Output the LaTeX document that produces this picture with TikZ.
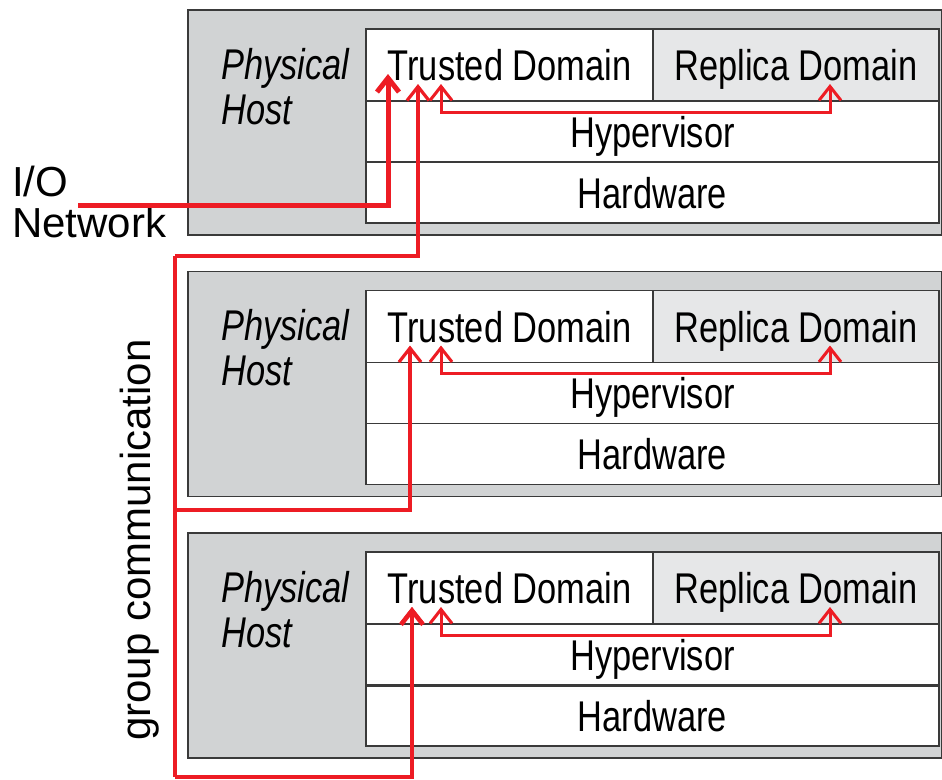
\documentclass[tikz,border=0pt]{standalone}
\usepackage{fontspec}
\setmainfont{Liberation Sans}[FakeStretch=0.8]
\newfontfamily\plainsans{Liberation Sans}
\usepackage{xcolor}
\usepackage{tikz}
\usetikzlibrary{arrows.meta,positioning,calc}
\definecolor{hostgray}{HTML}{D1D3D4}
\definecolor{replgray}{HTML}{E6E7E8}
\definecolor{edgeink}{HTML}{3A3A3A}
\definecolor{linkred}{HTML}{ED1C24}
\newcommand\biglabel{\fontsize{43}{45}\selectfont}
\tikzset{
  hostbox/.style={draw=edgeink,line width=1.8pt,fill=hostgray,anchor=north west,
                  minimum width=754pt,minimum height=225pt,inner sep=0pt,outer sep=0pt},
  cell/.style   ={draw=edgeink,line width=1.8pt,fill=white,inner sep=0pt,outer sep=0pt,
                  text depth=0pt,font=\biglabel},
  hosttext/.style={anchor=north west,align=left,inner sep=0pt,font=\biglabel\itshape},
  ionet/.style  ={-{Straight Barb[length=14pt,width=22pt]},line width=5pt,draw=linkred},
  grp/.style    ={-{Straight Barb[length=14pt,width=22pt]},line width=3.2pt,draw=linkred},
  repl/.style   ={{Straight Barb[length=14pt,width=22pt]}-{Straight Barb[length=14pt,width=22pt]},
                  line width=3pt,draw=linkred}
}

\begin{document}
\begin{tikzpicture}[x=1pt,y=-1pt]
    \useasboundingbox (0,0) rectangle (942,779);
    % the three physical hosts
    \foreach \k/\t in {1/10,2/271.5,3/533}{
      \node[hostbox] (host\k) at (188,\t) {};
      \node[cell,anchor=north west,minimum width=287pt,minimum height=72pt] (td\k) at (366,\t+19) {Trusted Domain};
      \node[cell,fill=replgray,right=0pt of td\k,minimum width=286pt,minimum height=72pt] (rd\k) {Replica Domain};
      \node[cell,anchor=north west,minimum width=573pt,minimum height=61pt] (hv\k) at (td\k.south west) {Hypervisor};
      \node[cell,anchor=north west,minimum width=573pt,minimum height=61pt] (hw\k) at (hv\k.south west) {Hardware};
      \node[hosttext] (ph\k) at (221,\t+38) {Physical\\Host};
    }
    \draw[edgeink,line width=3pt] (hw3.north west) -- (hw3.north east);
    % labels on the left
    \node[anchor=north west,align=left,inner sep=0pt,font=\plainsans\fontsize{42}{41}\selectfont] (io) at (12,166) {I/O\\Network};
    \node[rotate=90,anchor=base,inner sep=0pt,font=\plainsans\fontsize{42}{44}\selectfont] (gc) at (150,540) {group communication};
    % red links
    \foreach \k/\t/\gx/\gy in {1/10/418/256,2/271.5/410/510,3/533/412/777}{
      \coordinate (gt\k) at (\gx,\t+74);
      \coordinate (gj\k) at (175,\gy);
      \coordinate (ra\k) at (441,\t+74);
      \coordinate (rb\k) at (830,\t+74);
      \draw[repl] (ra\k) -- ++(0,28) -| (rb\k);
      \draw[grp] (gj\k) -| (gt\k);
    }
    \draw[grp,-] (gj1) -- (gj3);
    \draw[grp,line width=4.5pt] (412,777) -- (gt3);
    \coordinate (iostart) at (78,205);
    \coordinate (iotip) at (388,74);
    \draw[ionet] (iostart) -| (iotip);
\end{tikzpicture}
\end{document}
